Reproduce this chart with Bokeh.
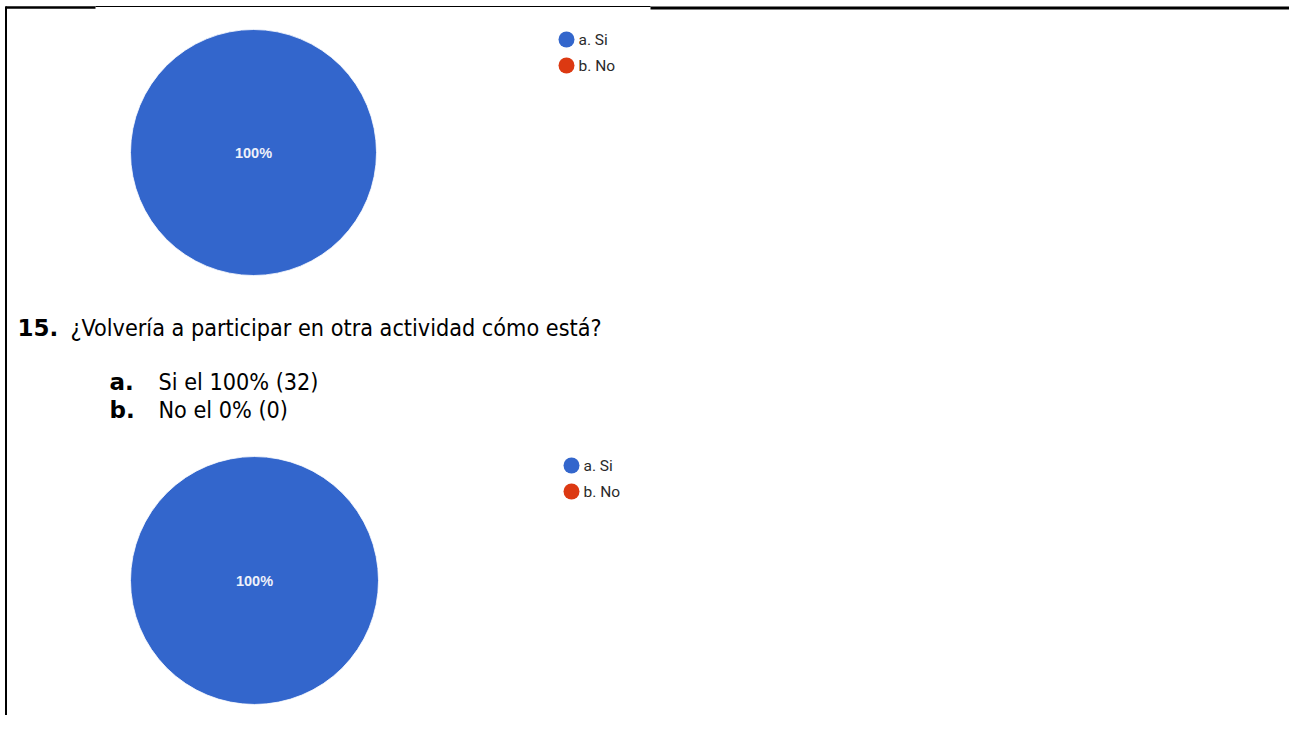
from bokeh.plotting import figure
from bokeh.models import Range1d
from bokeh.core.properties import value
from bokeh.embed import file_html
from bokeh.resources import INLINE
import numpy as np

# ---- data ----
categories = ["a. Si", "b. No"]
colors = ["#3366CC", "#DC3912"]
pie1_values = [100, 0]
pie2_values = [32, 0]
question = "¿Volvería a participar en otra actividad cómo está?"
q_number = "15."
answer_letters = ["a.", "b."]
answer_texts = ["Si el 100% (32)", "No el 0% (0)"]

W, H = 1289, 715

p = figure(width=W, height=H, output_backend="svg", toolbar_location=None,
           x_range=Range1d(0, W), y_range=Range1d(H, 0), min_border=0)
p.axis.visible = False
p.grid.visible = False
p.outline_line_color = None
p.background_fill_color = "white"

# document borders
p.segment(x0=[5.5, 5, 95, 650], y0=[6, 7, 6, 7.5],
          x1=[5.5, 95, 650, W], y1=[H, 7, 6, 7.5],
          line_color="black", line_width=[2, 2.5, 1, 3])

def pie(cx, cy, r, vals, lx, ly, tx0):
    vals = np.array(vals, dtype=float)
    frac = vals / vals.sum()
    ends = np.cumsum(frac) * 2 * np.pi
    starts = np.concatenate([[0], ends[:-1]])
    s = np.pi / 2 - ends
    e = np.pi / 2 - starts
    for i in range(len(vals)):
        if frac[i] >= 0.999:
            p.circle(x=[cx], y=[cy], radius=r, radius_units="screen",
                     fill_color=colors[i], line_color="white", line_width=0.8)
        elif frac[i] > 0:
            p.wedge(x=[cx], y=[cy], radius=r, radius_units="screen",
                    start_angle=s[i], end_angle=e[i], direction="anticlock",
                    fill_color=colors[i], line_color="white")
    for i in range(len(vals)):
        if frac[i] > 0:
            mid = (starts[i] + ends[i]) / 2
            if frac[i] >= 0.999:
                tx, ty = cx, cy
            else:
                tx = cx + 0.6 * r * np.sin(mid)
                ty = cy - 0.6 * r * np.cos(mid)
            p.text(x=[tx], y=[ty], text=[f"{round(frac[i]*100)}%"],
                   text_color="#eef1fa", text_font=value("Liberation Sans"),
                   text_font_style="bold",
                   text_font_size="14.5px", text_align="center", text_baseline="middle")
    # legend
    for i, c in enumerate(categories):
        p.scatter(x=[lx], y=[ly + 26 * i], size=16, marker="circle",
                  fill_color=colors[i], line_color=None)
        p.text(x=[tx0], y=[ly + 26 * i], text=[c], text_color="#2a2a2a",
               text_font=value("Roboto"), text_font_size="15.5px",
               text_align="left", text_baseline="middle")

pie(253, 152, 123, pie1_values, 566, 39, 578)
pie(254, 580, 124, pie2_values, 571, 465, 583)

# question text
p.text(x=[17], y=[327], text=[q_number], text_font=value("DejaVu Sans"),
       text_font_style="bold", text_font_size="23px", text_color="black",
       text_baseline="middle")
p.text(x=[70], y=[327], text=[question], text_font=value("DejaVu Sans Condensed"),
       text_font_size="23.2px", text_color="black", text_baseline="middle")
for i in range(2):
    yy = 381 + 28 * i
    p.text(x=[109], y=[yy], text=[answer_letters[i]], text_font=value("DejaVu Sans"),
           text_font_style="bold", text_font_size="23px", text_color="black",
           text_baseline="middle")
    p.text(x=[158], y=[yy], text=[answer_texts[i]], text_font=value("DejaVu Sans Condensed"),
           text_font_size="23.2px", text_color="black", text_baseline="middle")

open("out.html", "w").write(file_html(p, INLINE))
